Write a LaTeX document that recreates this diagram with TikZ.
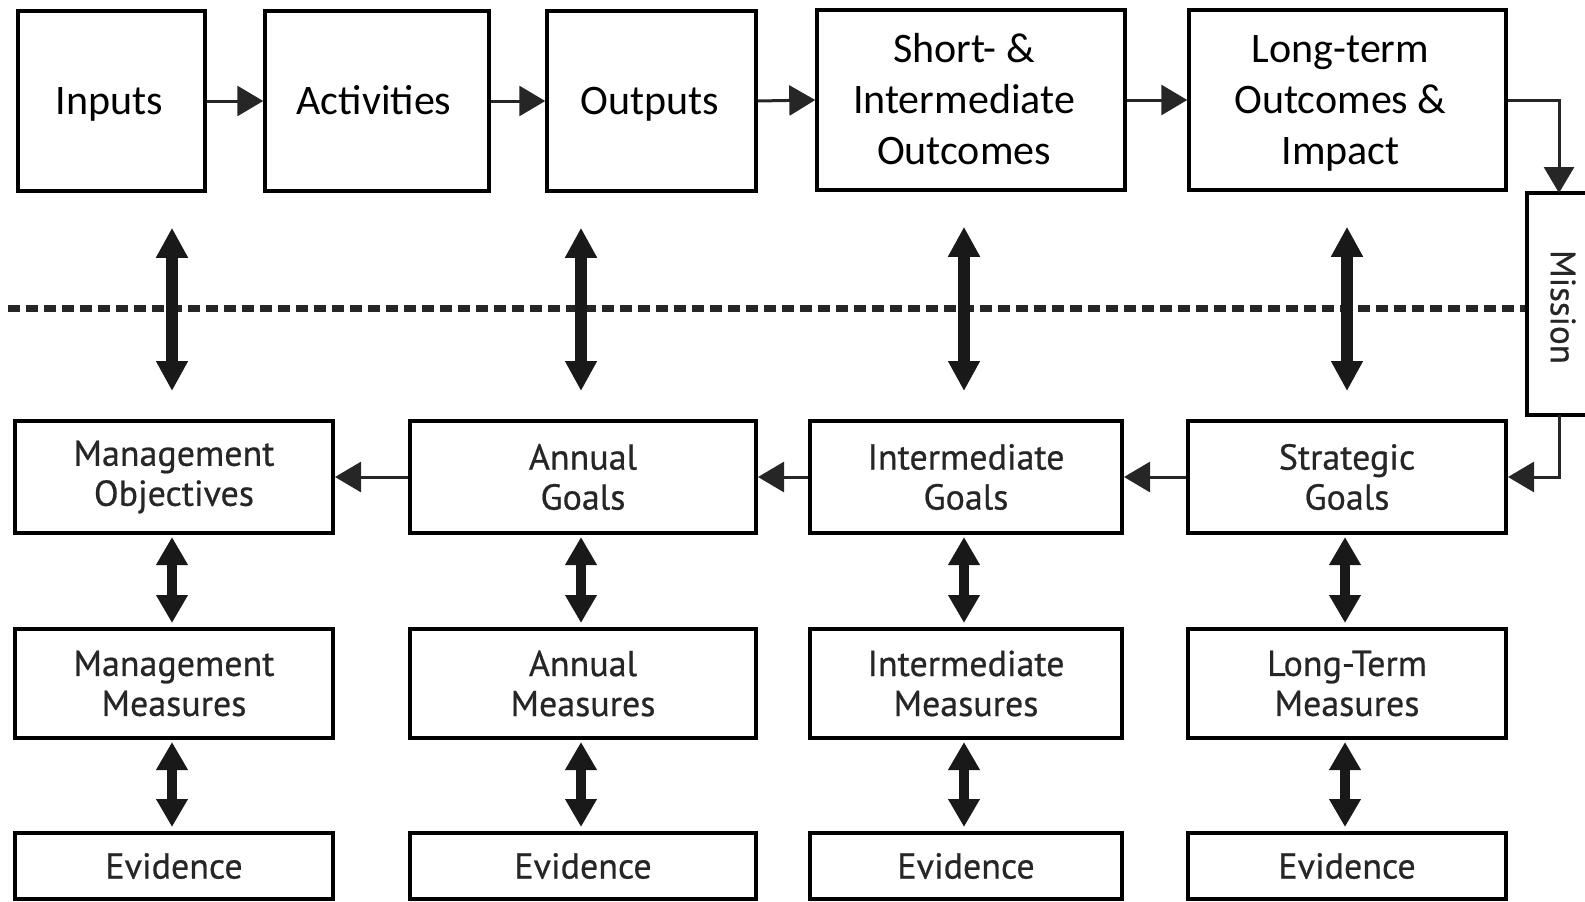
\documentclass[tikz,border=0pt]{standalone}
\usepackage{fontspec}
\setmainfont{Carlito}
\newfontfamily\lowfont[FakeBold=0.6]{PT Sans}
\usetikzlibrary{arrows.meta}
\newcommand{\padlines}[1]{\begin{tabular}{@{}c@{\hspace{14pt}}}#1\\[-6pt]\end{tabular}}
\begin{document}
\begin{tikzpicture}[x=1pt,y=-1pt,
  topbox/.style={draw=black,line width=3.5pt,fill=white,inner sep=0pt,
    font=\fontsize{42}{51}\selectfont,minimum height=180pt},
  oneline/.style={text height=27pt,text depth=0pt},
  lowbox/.style={draw=black,line width=4pt,fill=white,align=center,inner sep=0pt,
    font=\lowfont\fontsize{36}{40}\selectfont,text=black!85},
  flow/.style={draw=black!85,line width=3pt,-{Triangle[length=26pt,width=30pt]}},
  bigdbl/.style={draw=black!90,line width=12pt,{Triangle[length=30pt,width=30pt]}-{Triangle[length=30pt,width=30pt]}},
  smalldbl/.style={draw=black!90,line width=10pt,{Triangle[length=28pt,width=30pt]}-{Triangle[length=28pt,width=30pt]}},
  sepline/.style={draw=black!85,line width=7pt,dash pattern=on 12pt off 6pt}
]
\useasboundingbox (0,0) rectangle (1585,902);
\clip (0,0) rectangle (1585,902);
% dashed separator
\coordinate (dl) at (8,308);
\coordinate (dr) at (1527,308);
\draw[sepline] (dl) -- (dr);
% top row
\node[topbox,oneline,minimum width=187pt] (inputs) at (111.5,101) {Inputs\hspace*{4pt}};
\node[topbox,oneline,minimum width=224pt] (activities) at (377,101) {Activities\hspace*{6pt}};
\node[topbox,oneline,minimum width=209pt] (outputs) at (651.5,101) {Outputs\hspace*{4pt}};
\node[topbox,minimum width=308pt] (short) at (971,100) {\padlines{Short- \&\\Intermediate\\Outcomes}};
\node[topbox,minimum width=317pt] (long) at (1347.5,100) {\padlines{Long-term\\Outcomes \&\\Impact}};
% mission
\node[draw=black,line width=3.5pt,fill=white,minimum width=80pt,minimum height=222pt,inner sep=0pt] (mission) at (1567,304) {};
\node[rotate=-90,font=\lowfont\fontsize{35}{38}\selectfont,text=black!85] (missiontext) at (1563,307) {Mission};
% row 2
\node[lowbox,minimum width=318pt,minimum height=112pt] (mo) at (174,477) {Management\\Objectives};
\node[lowbox,minimum width=346pt,minimum height=112pt] (ag) at (583,477) {Annual\\Goals};
\node[lowbox,minimum width=312pt,minimum height=112pt] (ig) at (966,477) {Intermediate\\Goals};
\node[lowbox,minimum width=318pt,minimum height=112pt] (sg) at (1347,477) {Strategic\\Goals};
% row 3
\node[lowbox,minimum width=318pt,minimum height=109pt] (mm) at (174,683.5) {Management\\Measures};
\node[lowbox,minimum width=346pt,minimum height=109pt] (am) at (583,683.5) {Annual\\Measures};
\node[lowbox,minimum width=312pt,minimum height=109pt] (im) at (966,683.5) {Intermediate\\Measures};
\node[lowbox,minimum width=318pt,minimum height=109pt] (lm) at (1347,683.5) {Long-Term\\Measures};
% row 4
\node[lowbox,minimum width=318pt,minimum height=66pt] (e1) at (174,866) {Evidence};
\node[lowbox,minimum width=346pt,minimum height=66pt] (e2) at (583,866) {Evidence};
\node[lowbox,minimum width=312pt,minimum height=66pt] (e3) at (966,866) {Evidence};
\node[lowbox,minimum width=318pt,minimum height=66pt] (e4) at (1347,866) {Evidence};
% top flow
\draw[flow] (inputs.east) -- (activities.west);
\draw[flow] (activities.east) -- (outputs.west);
\draw[flow] (outputs.east) -- (short.west);
\draw[flow] (short.east) -- (long.west);
\coordinate (mtop) at (1559,193);
\coordinate (mbot) at (1559,415);
\draw[flow] (long.east) -| (mtop);
\draw[flow] (mbot) |- (sg.east);
% row 2 flow
\draw[flow] (sg.west) -- (ig.east);
\draw[flow] (ig.west) -- (ag.east);
\draw[flow] (ag.west) -- (mo.east);
% upper double arrows
\draw[bigdbl,shorten <=28pt,shorten >=35pt] ([xshift=-2pt]mo.north) -- ([xshift=-2pt]mo.north |- inputs.south);
\draw[bigdbl,shorten <=28pt,shorten >=35pt] ([xshift=-2pt]ag.north) -- ([xshift=-2pt]ag.north |- outputs.south);
\draw[bigdbl,shorten <=28pt,shorten >=35pt] ([xshift=-2pt]ig.north) -- ([xshift=-2pt]ig.north |- short.south);
\draw[bigdbl,shorten <=28pt,shorten >=35pt] (sg.north) -- (sg.north |- long.south);
% lower double arrows
\foreach \a/\b in {mo/mm,ag/am,ig/im,sg/lm,mm/e1,am/e2,im/e3,lm/e4}{
  \draw[smalldbl,shorten <=2pt,shorten >=4pt] ([xshift=-2pt]\a.south) -- ([xshift=-2pt]\b.north);
}
\end{tikzpicture}
\end{document}
